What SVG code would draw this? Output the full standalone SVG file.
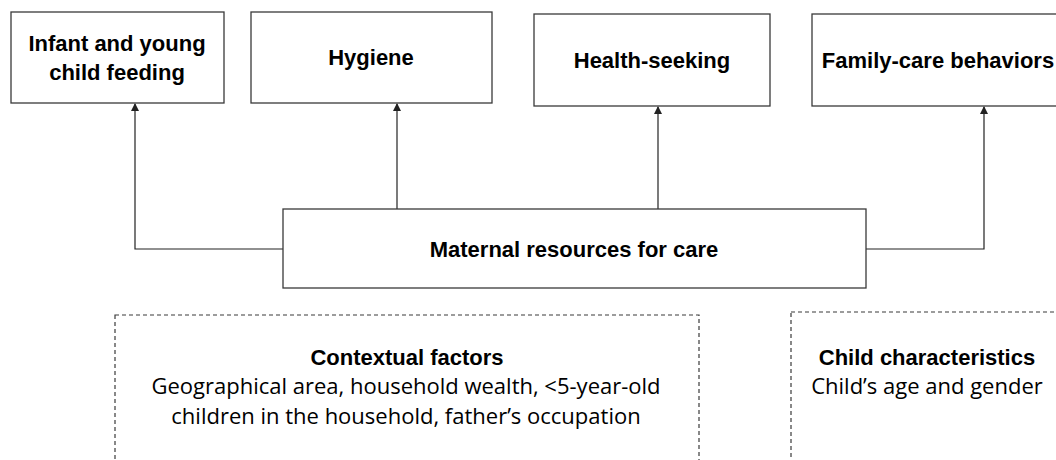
<svg xmlns="http://www.w3.org/2000/svg" width="1056" height="460" viewBox="0 0 1056 460">
<style>
.box{fill:#fff;stroke:#3a3a3a;stroke-width:1.3}
.dash{fill:none;stroke:#3a3a3a;stroke-width:1.2;stroke-dasharray:4,3}
.conn{fill:none;stroke:#222;stroke-width:1.2}
.t{font-family:"Liberation Sans",Arial,sans-serif;font-size:22px;fill:#000;text-anchor:middle}
.b{font-weight:bold}
.r{font-family:"Open Sans","Liberation Sans",sans-serif;font-size:22px;fill:#000;text-anchor:middle}
</style>
<defs>
<marker id="ah" markerWidth="8" markerHeight="8" refX="7" refY="4" orient="auto" markerUnits="userSpaceOnUse">
<path d="M0,0 L8,4 L0,8 Z" fill="#222"/>
</marker>
</defs>
<rect width="1056" height="460" fill="#fff"/>
<g id="connectors">
<path class="conn" d="M283,249 H135 V104" marker-end="url(#ah)"/>
<path class="conn" d="M397,209 V104" marker-end="url(#ah)"/>
<path class="conn" d="M658,209 V107" marker-end="url(#ah)"/>
<path class="conn" d="M866,249 H984 V107" marker-end="url(#ah)"/>
</g>
<g id="n-feeding">
<rect class="box" x="11" y="12" width="213" height="91"/>
<text class="t b" x="117" y="51">Infant and young</text>
<text class="t b" x="117" y="80">child feeding</text>
</g>
<g id="n-hygiene">
<rect class="box" x="251" y="12" width="241" height="91"/>
<text class="t b" x="371" y="65">Hygiene</text>
</g>
<g id="n-health">
<rect class="box" x="534" y="14" width="236" height="92"/>
<text class="t b" x="652" y="68">Health-seeking</text>
</g>
<g id="n-family">
<rect class="box" x="812" y="14" width="250" height="92"/>
<text class="t b" x="938" y="68">Family-care behaviors</text>
</g>
<g id="n-maternal">
<rect class="box" x="283" y="209" width="583" height="79"/>
<text class="t b" x="574" y="257">Maternal resources for care</text>
</g>
<g id="n-contextual">
<rect class="dash" x="115" y="315" width="584" height="160"/>
<text class="t b" x="407" y="365">Contextual factors</text>
<text class="r" x="406" y="394">Geographical area, household wealth, &lt;5-year-old</text>
<text class="r" x="406" y="424">children in the household, father’s occupation</text>
</g>
<g id="n-child">
<rect class="dash" x="791" y="312" width="280" height="160"/>
<text class="t b" x="927" y="365">Child characteristics</text>
<text class="r" x="927" y="394">Child’s age and gender</text>
</g>
</svg>
